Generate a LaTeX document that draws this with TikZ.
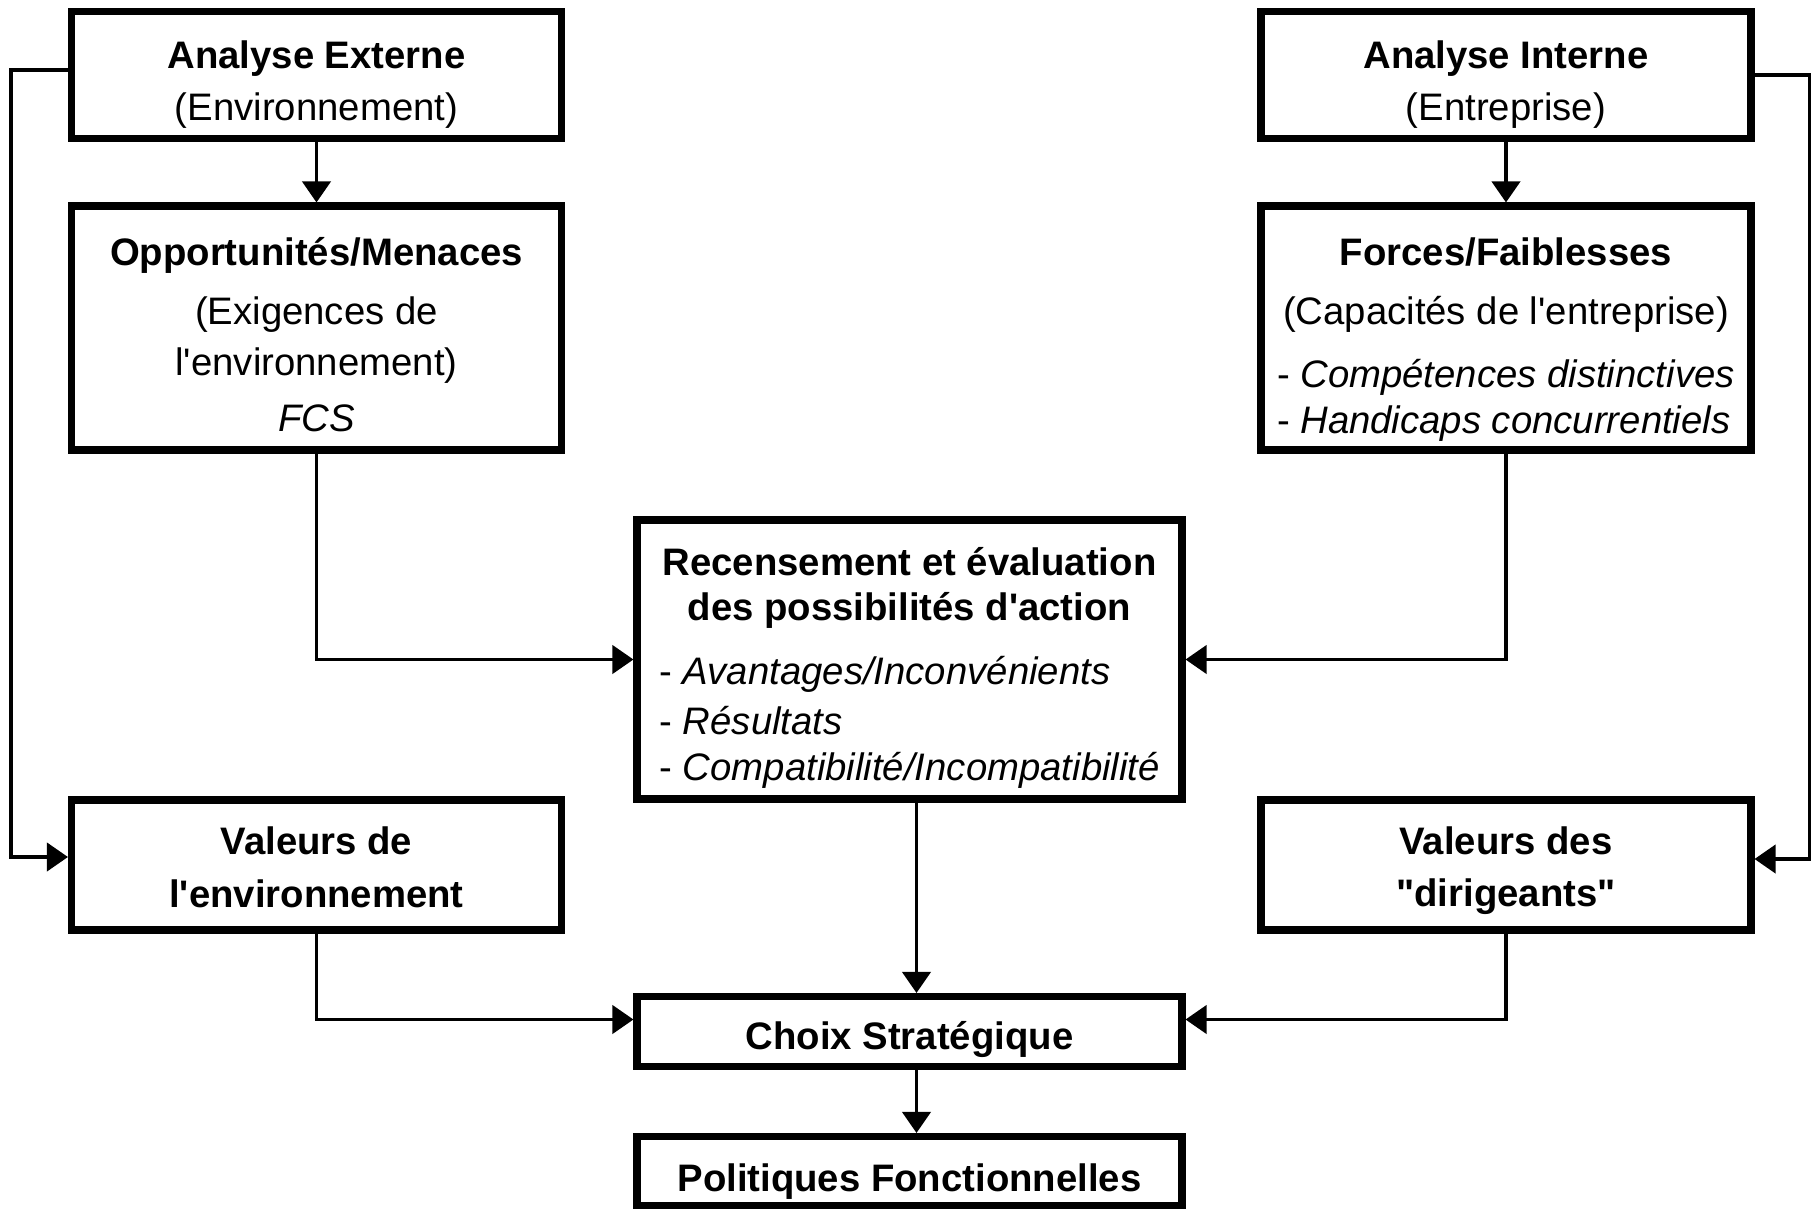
\documentclass[tikz,border=0pt]{standalone}
\usepackage{fontspec}
\setmainfont{Liberation Sans}[Ligatures=TeXOff]
\usetikzlibrary{arrows.meta,positioning,calc}
\tikzset{
  swbox/.style={draw,line width=2pt,inner sep=0pt,align=center,
    font=\fontsize{10.9}{13}\selectfont},
  sidebox/.style={swbox,minimum width=4.9cm},
  centrebox/.style={swbox,minimum width=5.45cm},
  link/.style={line width=1.1pt,-{Triangle[width=8pt,length=6pt]}}
}
\newcommand{\lstline}[2]{\makebox[#1][l]{- \textit{#2}}}
\newcommand{\tstrut}[1]{\rule{0pt}{#1}}

\begin{document}
\begin{tikzpicture}
  \useasboundingbox (0,0) rectangle (18.2,-12.09);
  % analyse externe / interne
  \node[sidebox,minimum height=1.27cm] (ext) at (3.165,-0.75)
    {\tstrut{13.2pt}\textbf{Analyse Externe}\\[1.8pt](Environnement)};
  \node[sidebox,minimum height=1.27cm] (int) at (15.06,-0.75)
    {\tstrut{13.2pt}\textbf{Analyse Interne}\\[1.8pt](Entreprise)};
  \node[sidebox,minimum height=2.44cm] (opp) at (3.165,-3.28)
    {\tstrut{11.9pt}\textbf{Opportunités/Menaces}\\[3.7pt](Exigences de\\[1.4pt]l'environnement)\\[3pt]\textit{FCS}};
  \node[sidebox,minimum height=2.44cm] (forc) at (15.06,-3.28)
    {\tstrut{14.5pt}\textbf{Forces/Faiblesses}\\[3.7pt](Capacités de l'entreprise)\\[5pt]
     \lstline{4.58cm}{Compétences distinctives}\\
     \lstline{4.58cm}{Handicaps concurrentiels}};
  % milieu
  \node[centrebox,minimum height=2.79cm] (rec) at (9.095,-6.595)
    {\tstrut{12.7pt}\textbf{Recensement et évaluation}\\\textbf{des possibilités d'action}\\[5pt]
     \lstline{5cm}{Avantages/Inconvénients}\\[1.5pt]
     \lstline{5cm}{Résultats}\\
     \lstline{5cm}{Compatibilité/Incompatibilité}};
  \node[sidebox,minimum height=1.3cm] (venv) at (3.165,-8.65)
    {\tstrut{9.2pt}\textbf{Valeurs de}\\[2pt]\textbf{l'environnement}};
  \node[sidebox,minimum height=1.3cm] (vdir) at (15.06,-8.65)
    {\tstrut{11.2pt}\textbf{Valeurs des}\\[2pt]\textbf{"dirigeants"}};
  \node[centrebox,minimum height=0.7cm] (choix) at (9.095,-10.315)
    {\tstrut{12.4pt}\textbf{Choix Stratégique}};
  \node[centrebox,minimum height=0.69cm] (pol) at (9.095,-11.71)
    {\tstrut{13.8pt}\textbf{Politiques Fonctionnelles}};
  % connecteurs
  \draw[link] (ext) -- (opp);
  \draw[link] (int) -- (forc);
  \draw[link] (opp.south) |- (rec.west);
  \draw[link] (forc.south) |- (rec.east);
  \draw[link] ([xshift=0.7mm]rec.south) -- ([xshift=0.7mm]choix.north);
  \draw[link] (venv.south) |- ([yshift=1.2mm]choix.west);
  \draw[link] (vdir.south) |- ([yshift=1.2mm]choix.east);
  \draw[link] ([xshift=0.7mm]choix.south) -- ([xshift=0.7mm]pol.north);
  \draw[link] ([yshift=0.5mm]ext.west) -- ++(-0.57,0) |- ([yshift=0.8mm]venv.west);
  \draw[link] (int.east) -- ++(0.55,0) |- ([yshift=0.6mm]vdir.east);
\end{tikzpicture}
\end{document}
